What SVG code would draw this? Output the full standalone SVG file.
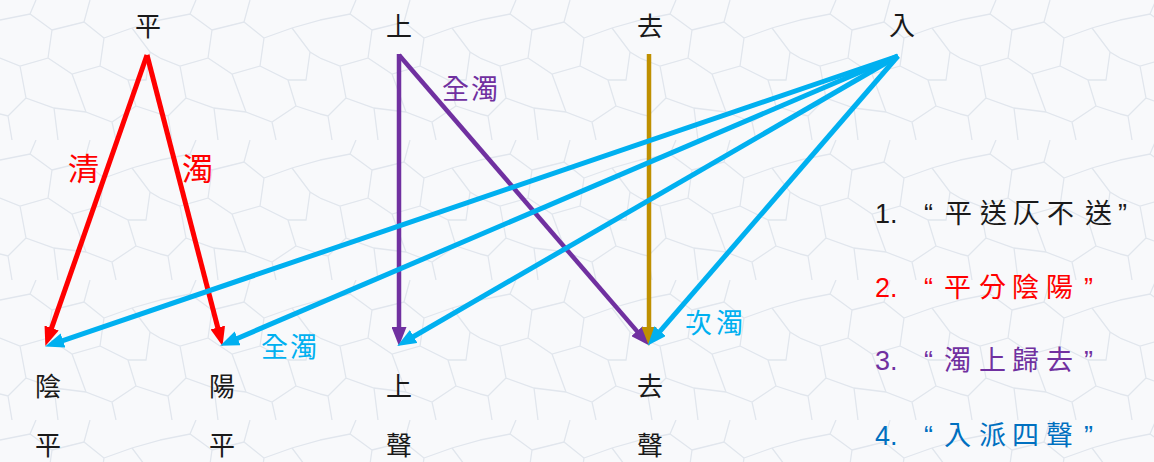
<svg xmlns="http://www.w3.org/2000/svg" width="1154" height="462" viewBox="0 0 1154 462">
<style>
.cjk{font-family:"Noto Sans CJK TC","Noto Sans CJK SC",sans-serif;}
.node{font-size:26px;fill:#1a1a1a;text-anchor:middle;}
.lg{font-family:"Liberation Sans","Noto Sans CJK TC",sans-serif;font-size:27px;}
.ln{fill:none;stroke-width:5;stroke-linecap:butt;}
.red{stroke:#ff0000;}
.blue{stroke:#00b0f0;}
.purple{stroke:#7030a0;stroke-width:4.5;}
.gold{stroke:#bf9000;stroke-width:4.5;}
</style>
<defs>
<pattern id="crack" width="160" height="140" patternUnits="userSpaceOnUse">
<path d="M0,20 L30,14 L52,30 L48,58 L20,66 L0,58 M30,14 L36,0 M52,30 L84,22 L104,38 L100,66 L72,74 L48,58 M84,22 L90,0 M104,38 L132,28 L160,20 M100,66 L128,80 L136,106 L112,122 L86,112 L72,74 M132,28 L150,52 L160,58 M150,52 L146,80 L128,80 M20,66 L26,98 L54,108 L86,112 M26,98 L8,116 L0,114 M54,108 L58,140 M112,122 L116,140 M136,106 L160,114 M8,116 L12,140" fill="none" stroke="#e1e6ed" stroke-width="1.3"/>
</pattern>
<marker id="ar" viewBox="0 0 19 15" refX="1" refY="7.5" markerWidth="19" markerHeight="15" markerUnits="userSpaceOnUse" orient="auto"><path d="M0,0 L19,7.5 L0,15 z" fill="#ff0000"/></marker>
<marker id="ab" viewBox="0 0 19 15" refX="1" refY="7.5" markerWidth="19" markerHeight="15" markerUnits="userSpaceOnUse" orient="auto"><path d="M0,0 L19,7.5 L0,15 z" fill="#00b0f0"/></marker>
<marker id="ap" viewBox="0 0 19 15" refX="1" refY="7.5" markerWidth="19" markerHeight="15" markerUnits="userSpaceOnUse" orient="auto"><path d="M0,0 L19,7.5 L0,15 z" fill="#7030a0"/></marker>
<marker id="ag" viewBox="0 0 19 15" refX="1" refY="7.5" markerWidth="19" markerHeight="15" markerUnits="userSpaceOnUse" orient="auto"><path d="M0,0 L19,7.5 L0,15 z" fill="#bf9000"/></marker>
</defs>
<rect width="1154" height="462" fill="#f8f9fb"/>
<rect width="1154" height="462" fill="url(#crack)"/>

<g id="connectors">
<line class="ln red" x1="147" y1="55" x2="51.3" y2="328.9" marker-end="url(#ar)"/>
<line class="ln red" x1="147" y1="55" x2="218" y2="328.5" marker-end="url(#ar)"/>
<line class="ln purple" x1="399" y1="54" x2="399" y2="328" marker-end="url(#ap)"/>
<line class="ln purple" x1="399" y1="55" x2="637.6" y2="331.9" marker-end="url(#ap)"/>
<line class="ln gold" x1="649" y1="54" x2="649" y2="328" marker-end="url(#ag)"/>
<line class="ln blue" x1="898" y1="56" x2="62.1" y2="340.8" marker-end="url(#ab)"/>
<line class="ln blue" x1="898" y1="56" x2="236.7" y2="338.7" marker-end="url(#ab)"/>
<line class="ln blue" x1="898" y1="56" x2="412.8" y2="337" marker-end="url(#ab)"/>
<line class="ln blue" x1="898" y1="56" x2="659.5" y2="331.9" marker-end="url(#ab)"/>
<text class="cjk" x="68" y="180" font-size="31" fill="#ff0000">清</text>
<text class="cjk" x="182" y="180" font-size="31" fill="#ff0000">濁</text>
<text class="cjk" x="442" y="99" font-size="27" fill="#7030a0" letter-spacing="2">全濁</text>
<text class="cjk" x="261" y="357" font-size="27" fill="#00b0f0" letter-spacing="2">全濁</text>
<text class="cjk" x="685" y="333" font-size="27" fill="#00b0f0" letter-spacing="4">次濁</text>
</g>

<g id="node-ping"><text class="cjk node" x="148" y="36">平</text></g>
<g id="node-shang"><text class="cjk node" x="399" y="36">上</text></g>
<g id="node-qu"><text class="cjk node" x="650" y="36">去</text></g>
<g id="node-ru"><text class="cjk node" x="902" y="35">入</text></g>

<g id="node-yinping"><text class="cjk node" x="48" y="396">陰</text><text class="cjk node" x="48" y="455">平</text></g>
<g id="node-yangping"><text class="cjk node" x="222" y="396">陽</text><text class="cjk node" x="222" y="455">平</text></g>
<g id="node-shangsheng"><text class="cjk node" x="399" y="396">上</text><text class="cjk node" x="399" y="455">聲</text></g>
<g id="node-qusheng"><text class="cjk node" x="650" y="396">去</text><text class="cjk node" x="650" y="455">聲</text></g>

<g id="legend" class="lg">
<text y="223" fill="#1a1a1a"><tspan x="875">1.</tspan><tspan x="924 945 980 1013 1047 1085 1118">“平送仄不送”</tspan></text>
<text y="297" fill="#ff0000"><tspan x="875">2.</tspan><tspan x="924 944 979 1012 1046 1084">“平分陰陽”</tspan></text>
<text y="370" fill="#7030a0"><tspan x="875">3.</tspan><tspan x="924 944 979 1012 1046 1084">“濁上歸去”</tspan></text>
<text y="445" fill="#0070c0"><tspan x="875">4.</tspan><tspan x="924 944 979 1012 1046 1084">“入派四聲”</tspan></text>
</g>
</svg>
